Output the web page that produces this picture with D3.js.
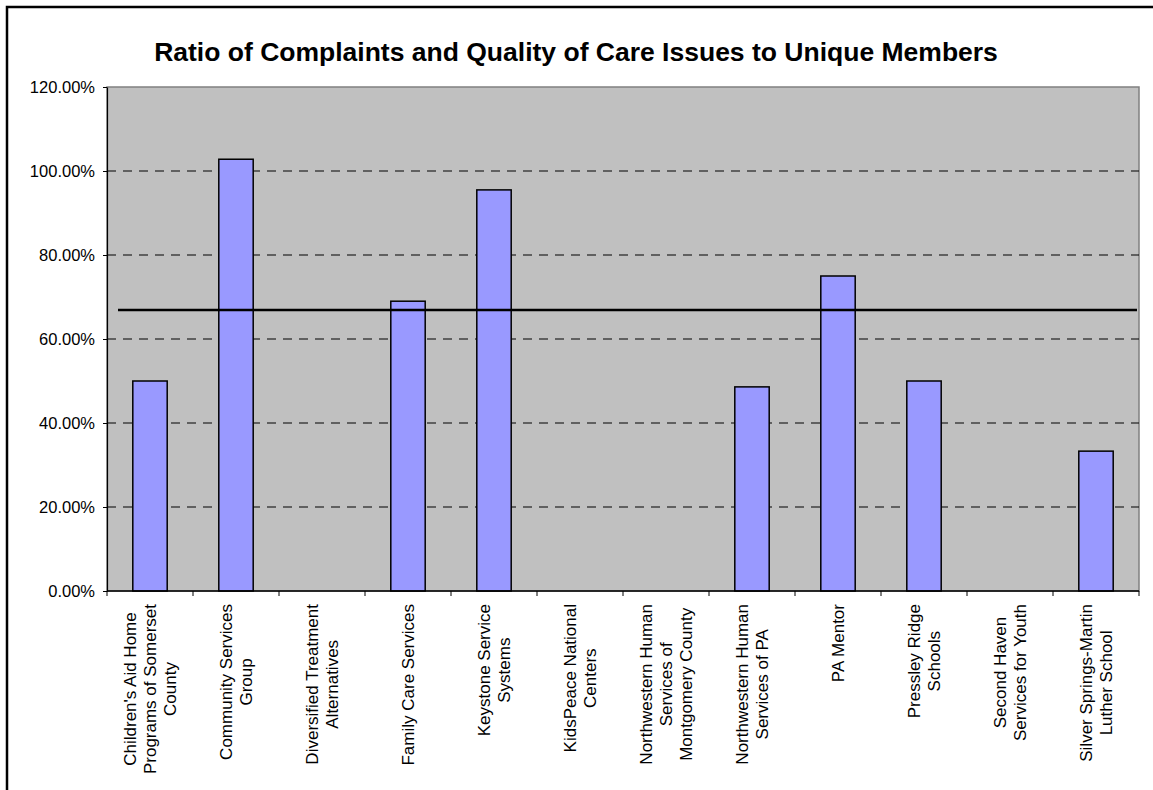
<!DOCTYPE html>
<html>
<head>
<meta charset="utf-8">
<script src="https://cdn.jsdelivr.net/npm/d3@7"></script>
<style>
  html, body { margin: 0; padding: 0; background: #fff; overflow: hidden; }
  svg { display: block; font-family: "Liberation Sans", Arial, sans-serif; }
</style>
</head>
<body>
<svg id="chart" width="1153" height="790"></svg>
<script>
// ---- Data ----
const categories = [
  "Children's Aid Home Programs of Somerset County",
  "Community Services Group",
  "Diversified Treatment Alternatives",
  "Family Care Services",
  "Keystone Service Systems",
  "KidsPeace National Centers",
  "Northwestern Human Services of Montgomery County",
  "Northwestern Human Services of PA",
  "PA Mentor",
  "Pressley Ridge Schools",
  "Second Haven Services for Youth",
  "Silver Springs-Martin Luther School"
];
const categoryLines = [
  ["Children's Aid Home", "Programs of Somerset", "County"],
  ["Community Services", "Group"],
  ["Diversified Treatment", "Alternatives"],
  ["Family Care Services"],
  ["Keystone Service", "Systems"],
  ["KidsPeace National", "Centers"],
  ["Northwestern Human", "Services of", "Montgomery County"],
  ["Northwestern Human", "Services of PA"],
  ["PA Mentor"],
  ["Pressley Ridge", "Schools"],
  ["Second Haven", "Services for Youth"],
  ["Silver Springs-Martin", "Luther School"]
];
const ratioValues = [0.50, 1.028, 0, 0.69, 0.955, 0, 0, 0.486, 0.75, 0.50, 0, 0.333];
const averageValue = [0.669];
const yTickValues = [0, 0.2, 0.4, 0.6, 0.8, 1.0, 1.2];
const gridValues = [0.2, 0.4, 0.6, 0.8, 1.0];
const title = "Ratio of Complaints and Quality of Care Issues to Unique Members";

// ---- Layout ----
const svg = d3.select("#chart");
const plot = { left: 107, right: 1139, top: 87, bottom: 591 };

// outer frame (extends past the window on right and bottom)
svg.append("rect")
  .attr("x", 7).attr("y", 7).attr("width", 1200).attr("height", 900)
  .attr("fill", "#fff").attr("stroke", "#000").attr("stroke-width", 2.5);

const x = d3.scaleBand().domain(categories).range([plot.left, plot.right]).padding(0);
const y = d3.scaleLinear().domain([0, 1.2]).range([plot.bottom, plot.top]);

// plot area
svg.append("rect")
  .attr("x", plot.left).attr("y", plot.top)
  .attr("width", plot.right - plot.left).attr("height", plot.bottom - plot.top)
  .attr("fill", "#c0c0c0").attr("stroke", "#808080").attr("stroke-width", 1.5);

// gridlines
svg.append("g").selectAll("line").data(gridValues).join("line")
  .attr("x1", plot.left).attr("x2", plot.right)
  .attr("y1", d => y(d)).attr("y2", d => y(d))
  .attr("stroke", "#000").attr("stroke-width", 1)
  .attr("stroke-dasharray", "9,7");

// bars
const bw = x.bandwidth();
svg.append("g").selectAll("rect")
  .data(categories.map((c, i) => ({ c, v: ratioValues[i] })).filter(d => d.v > 0))
  .join("rect")
  .attr("x", d => x(d.c) + bw * 0.3)
  .attr("width", bw * 0.4)
  .attr("y", d => y(d.v))
  .attr("height", d => y(0) - y(d.v))
  .attr("fill", "#9999ff").attr("stroke", "#000").attr("stroke-width", 1.5);

// average line
svg.append("g").selectAll("line").data(averageValue).join("line")
  .attr("x1", plot.left + 11).attr("x2", plot.right - 2)
  .attr("y1", d => y(d)).attr("y2", d => y(d))
  .attr("stroke", "#000").attr("stroke-width", 2.5);

// y axis
const yAxis = svg.append("g")
  .attr("transform", `translate(${plot.left},0)`)
  .call(d3.axisLeft(y).tickValues(yTickValues).tickFormat(d3.format(".2%")).tickSize(4).tickSizeOuter(0).tickPadding(8));
yAxis.select(".domain").attr("stroke", "#000").attr("stroke-width", 1.2);
yAxis.selectAll(".tick line").attr("stroke", "#000");
yAxis.selectAll("text").attr("font-size", "16.5px").attr("fill", "#000")
  .attr("font-family", "Liberation Sans, Arial, sans-serif");

// x axis
const xg = svg.append("g");
xg.append("line")
  .attr("x1", plot.left).attr("x2", plot.right)
  .attr("y1", plot.bottom).attr("y2", plot.bottom)
  .attr("stroke", "#000").attr("stroke-width", 1.5);
const boundaries = categories.map(c => x(c)).concat([x.range()[1]]);
xg.selectAll("line.tk").data(boundaries).join("line").attr("class", "tk")
  .attr("x1", d => d).attr("x2", d => d)
  .attr("y1", plot.bottom).attr("y2", plot.bottom + 5)
  .attr("stroke", "#000").attr("stroke-width", 1);

// category labels (rotated, lines centered relative to the longest line)
const labelTop = 604;
const lineH = 20;
categories.forEach((c, i) => {
  const lines = categoryLines[i];
  const cx = x(c) + bw / 2;
  const g = xg.append("g");
  const texts = lines.map((ln, j) => {
    const lx = cx + (j - (lines.length - 1) / 2) * lineH;
    return g.append("text")
      .attr("font-size", "17px").attr("fill", "#000")
      .attr("text-anchor", "middle")
      .attr("dominant-baseline", "central")
      .attr("data-x", lx)
      .text(ln);
  });
  const maxW = d3.max(texts, t => t.node().getComputedTextLength());
  const cy = labelTop + maxW / 2;
  texts.forEach(t => {
    const lx = +t.attr("data-x");
    t.attr("transform", `translate(${lx},${cy}) rotate(-90)`).attr("data-x", null);
  });
});

// title
svg.append("text")
  .attr("x", 576).attr("y", 61)
  .attr("text-anchor", "middle")
  .attr("font-size", "26.5px").attr("font-weight", "bold").attr("fill", "#000")
  .text(title);
</script>
</body>
</html>
